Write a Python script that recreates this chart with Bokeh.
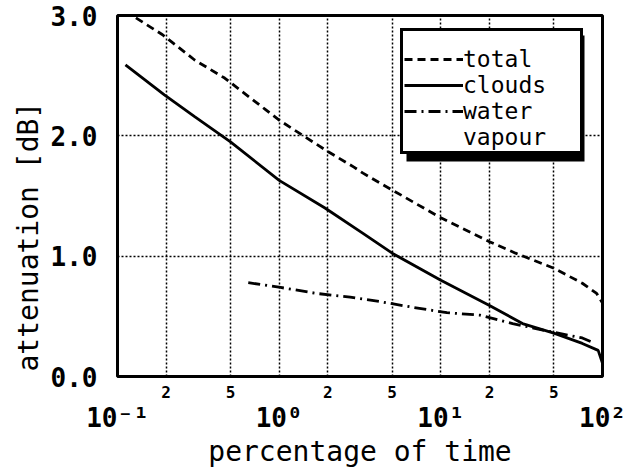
from bokeh.plotting import figure
from bokeh.models import (FixedTicker, LogAxis, Legend, LegendItem, BoxAnnotation,
                          Title, Range1d, PrintfTickFormatter)
from bokeh.embed import file_html
from bokeh.resources import INLINE

# ---- data (percentage of time [%], attenuation [dB]) ----
total_x = [0.13, 0.19, 0.30, 0.46, 0.82, 1.0, 1.45, 2.0, 2.9, 3.3, 5.0, 9.8, 20, 29, 50, 75, 92, 100]
total_y = [2.98, 2.84, 2.63, 2.48, 2.22, 2.13, 1.99, 1.87, 1.74, 1.69, 1.55, 1.325, 1.12, 1.025,
           0.90, 0.775, 0.69, 0.61]

clouds_x = [0.112, 0.195, 0.30, 0.50, 1.0, 1.92, 3.3, 5.0, 10, 20, 32, 50, 75, 94, 100]
clouds_y = [2.59, 2.34, 2.16, 1.95, 1.63, 1.40, 1.19, 1.025, 0.80, 0.59, 0.44, 0.36, 0.275, 0.217, 0.11]

water_x = [0.644, 1.02, 1.71, 2.75, 4.3, 6.7, 10.9, 17.4, 27.8, 45, 75, 88]
water_y = [0.78, 0.74, 0.69, 0.66, 0.62, 0.575, 0.53, 0.51, 0.44, 0.38, 0.32, 0.28]

series_names = ["total", "clouds", "water", "vapour"]

minor_ticks = [0.2, 0.5, 2, 5, 20, 50]
minor_labels = ["2", "5", "2", "5", "2", "5"]
decade_ticks = [0.1, 1, 10, 100]
decade_labels = ["10\u207b\u00b9", "10\u2070", "10\u00b9", "10\u00b2"]
y_ticks = [0, 1, 2, 3]
grid_x = [0.2, 0.5, 1, 2, 5, 10, 20, 50]
grid_y = [1, 2]

FONT = "DejaVu Sans Mono"

p = figure(width=637, height=470, x_axis_type="log",
           x_range=Range1d(0.1, 100), y_range=Range1d(0, 3),
           output_backend="svg", toolbar_location=None,
           min_border_left=117, min_border_right=35,
           min_border_top=15, min_border_bottom=93)

p.outline_line_color = "black"
p.outline_line_width = 3
p.outline_line_alpha = 1.0
p.background_fill_color = "white"
p.border_fill_color = "white"

# grids
p.xgrid.ticker = FixedTicker(ticks=grid_x)
p.ygrid.ticker = FixedTicker(ticks=grid_y)
for g in (p.xgrid, p.ygrid):
    g.grid_line_color = "black"
    g.grid_line_dash = "2 2"
    g.grid_line_width = 1.5
    g.grid_line_alpha = 1.0

# y axis
ya = p.yaxis[0]
ya.ticker = FixedTicker(ticks=y_ticks)
ya.formatter = PrintfTickFormatter(format="%.1f")
ya.axis_line_color = None
ya.major_tick_line_color = None
ya.minor_tick_line_color = None
ya.major_tick_out = 0
ya.minor_tick_out = 0
ya.major_label_text_font = FONT
ya.major_label_text_font_size = "26px"
ya.major_label_text_font_style = "bold"
ya.major_label_text_color = "black"
ya.major_label_standoff = 20

# x axis with minor labels 2, 5
xa = p.xaxis[0]
xa.ticker = FixedTicker(ticks=minor_ticks)
xa.major_label_overrides = {t: l for t, l in zip(minor_ticks, minor_labels)}
xa.axis_line_color = None
xa.major_tick_line_color = None
xa.minor_tick_line_color = None
xa.major_tick_out = 0
xa.minor_tick_out = 0
xa.major_label_text_font = FONT
xa.major_label_text_font_size = "16px"
xa.major_label_text_font_style = "bold"
xa.major_label_text_color = "black"
xa.major_label_standoff = 9

# x axis with decade labels and the axis title
xd = LogAxis(ticker=FixedTicker(ticks=decade_ticks),
             major_label_overrides={t: l for t, l in zip(decade_ticks, decade_labels)})
xd.axis_line_color = None
xd.major_tick_line_color = None
xd.minor_tick_line_color = None
xd.major_tick_out = 0
xd.minor_tick_out = 0
xd.major_label_text_font = FONT
xd.major_label_text_font_size = "26px"
xd.major_label_text_font_style = "bold"
xd.major_label_text_color = "black"
xd.major_label_standoff = 2
xd.axis_label = "percentage of time"
xd.axis_label_text_font = FONT
xd.axis_label_text_font_size = "28px"
xd.axis_label_text_font_style = "normal"
xd.axis_label_text_color = "black"
xd.axis_label_standoff = -1
p.add_layout(xd, "below")

# y title on the left
yt = Title(text="attenuation [dB]", align="left", offset=5, standoff=5,
           text_font=FONT, text_font_size="28px", text_font_style="normal",
           text_color="black")
p.add_layout(yt, "left")

# curves
r_total = p.line(total_x, total_y, line_color="black", line_width=2.8, line_dash="8 5")
r_clouds = p.line(clouds_x, clouds_y, line_color="black", line_width=2.8)
r_water = p.line(water_x, water_y, line_color="black", line_width=2.8, line_dash="12 5 2 5")
r_dummy = p.line([], [], line_alpha=0)

# legend shadow
shadow = BoxAnnotation(left=289, right=467, bottom=215, top=341,
                       left_units="screen", right_units="screen",
                       bottom_units="screen", top_units="screen",
                       fill_color="black", fill_alpha=1.0, line_color=None)
p.add_layout(shadow)

legend = Legend(items=[LegendItem(label=series_names[0], renderers=[r_total]),
                       LegendItem(label=series_names[1], renderers=[r_clouds]),
                       LegendItem(label=series_names[2], renderers=[r_water]),
                       LegendItem(label=series_names[3], renderers=[r_dummy])],
                title=" ", title_text_font_size="12px", title_standoff=0,
                location=(283, 222), margin=0, padding=1, spacing=0,
                glyph_width=59, glyph_height=20, label_standoff=0,
                label_width=116, label_height=20,
                label_text_font=FONT, label_text_font_size="23px",
                label_text_color="black",
                border_line_color="black", border_line_width=3, border_line_alpha=1.0,
                background_fill_color="white", background_fill_alpha=1.0)
p.add_layout(legend)

open("out.html", "w").write(file_html(p, INLINE))
